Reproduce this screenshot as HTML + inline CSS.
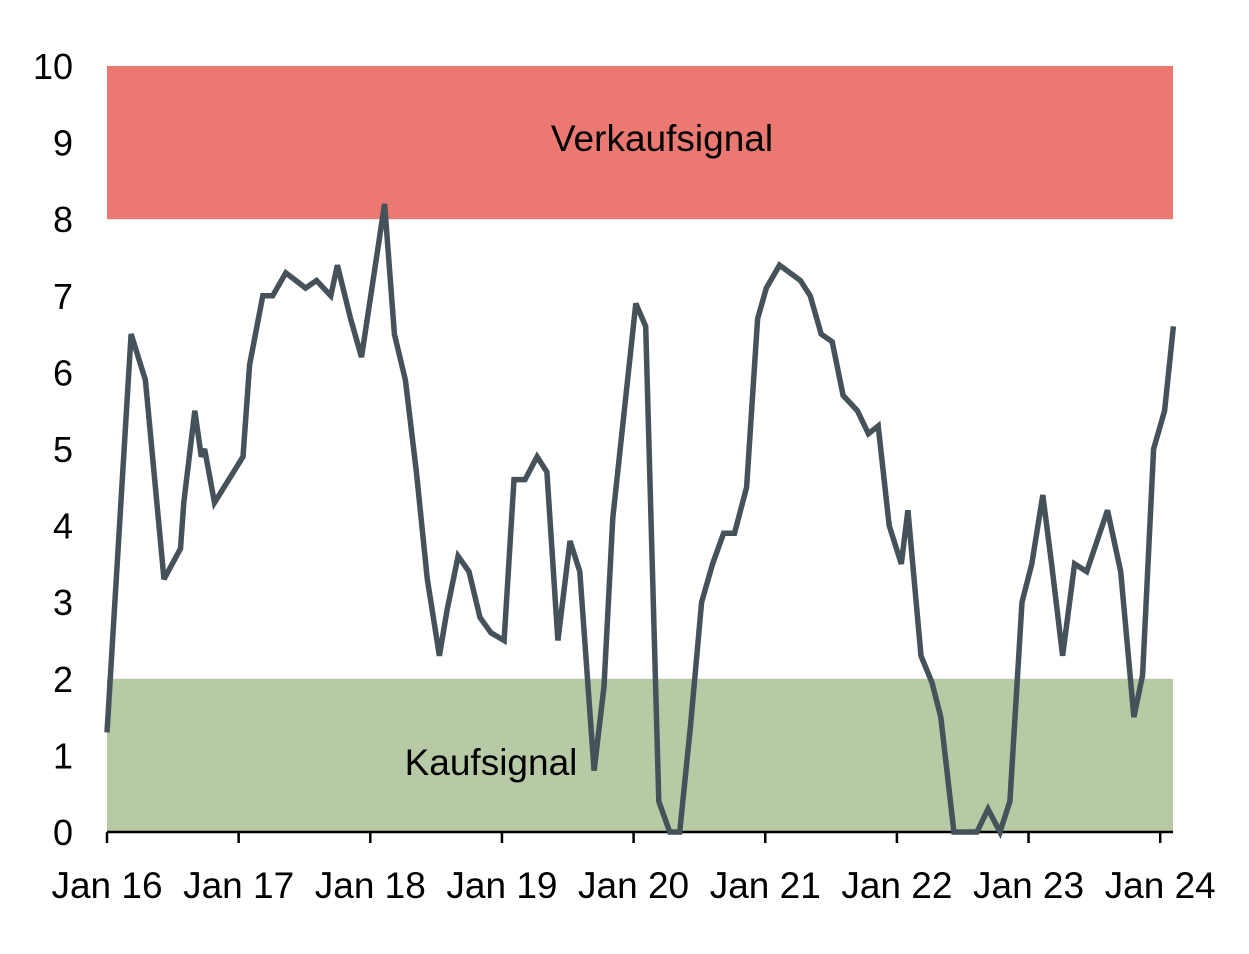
<!DOCTYPE html>
<html><head><meta charset="utf-8"><style>
html,body{margin:0;padding:0;background:#fff;}
svg text{font-family:"Liberation Sans",sans-serif;fill:#000;}
</style></head><body>
<svg id="chart" width="1249" height="949" viewBox="0 0 1249 949" xmlns="http://www.w3.org/2000/svg">
<g id="bands"></g><g id="axes"></g><g id="series"></g>
</svg>
<script>
// months since Jan 2016
const months=[0,2.2,3.5,5.2,6.7,7,8,8.6,8.9,9.8,12.4,13,14.2,15.1,16.3,18.1,19.1,20.4,21,22.2,23.2,25.3,26.2,27.2,28.2,29.2,30.3,31,32,33,34,35,36.2,37.1,38.1,39.2,40.1,41.1,42.2,43.1,44.4,45.3,46.1,48.2,49.1,50.3,51.3,52.2,53.2,54.2,55.2,56.2,57.2,58.3,59.3,60.1,61.3,63.2,64.1,65.1,66.1,67.1,68.4,69.4,70.3,71.3,72.4,73,74.2,75.2,76,77.2,79.3,80.3,81.4,82.3,83.4,84.3,85.3,86.1,87.1,88.2,89.3,91.2,92.4,93.6,94.4,95.4,96.4,97.2];
const values=[1.3,6.5,5.9,3.3,3.7,4.3,5.5,4.9,5.0,4.3,4.9,6.1,7.0,7.0,7.3,7.1,7.2,7.0,7.4,6.7,6.2,8.2,6.5,5.9,4.7,3.3,2.3,2.9,3.6,3.4,2.8,2.6,2.5,4.6,4.6,4.9,4.7,2.5,3.8,3.4,0.8,1.9,4.1,6.9,6.6,0.4,0,0,1.4,3.0,3.5,3.9,3.9,4.5,6.7,7.1,7.4,7.2,7.0,6.5,6.4,5.7,5.5,5.2,5.3,4.0,3.5,4.2,2.3,1.95,1.5,0,0,0.3,0,0.4,3.0,3.5,4.4,3.5,2.3,3.5,3.4,4.2,3.4,1.5,2.05,5.0,5.5,6.6];
const yTicks=[0,1,2,3,4,5,6,7,8,9,10];
const xTickLabels=["Jan 16","Jan 17","Jan 18","Jan 19","Jan 20","Jan 21","Jan 22","Jan 23","Jan 24"];
const bandSell=[8,10], bandBuy=[0,2];

const X0=107,PXM=131.65/12,XEND=1173;
const x=m=>X0+m*PXM;
const y=v=>832-v*76.6;
const NS="http://www.w3.org/2000/svg";
function mk(tag,attrs,parent,text){const e=document.createElementNS(NS,tag);for(const k in attrs)e.setAttribute(k,attrs[k]);if(text!==undefined)e.textContent=text;document.getElementById(parent).appendChild(e);return e;}

let r=mk('rect',{x:X0,y:y(bandSell[1]),width:XEND-X0,height:y(bandSell[0])-y(bandSell[1]),fill:'#ec7872'},'bands');


r=mk('rect',{x:X0,y:y(bandBuy[1]),width:XEND-X0,height:y(bandBuy[0])-y(bandBuy[1]),fill:'#b8c9a5'},'bands');


let t=mk('text',{x:662,y:151,'font-size':37,'text-anchor':'middle'},'bands','Verkaufsignal');


t=mk('text',{x:491,y:775,'font-size':37,'text-anchor':'middle'},'bands','Kaufsignal');



yTicks.forEach(v=>{const e=mk('text',{x:73,y:y(v)+13,'font-size':36,'text-anchor':'end'},'axes',String(v));

});
let ax=mk('line',{x1:X0,x2:XEND,y1:832,y2:832,stroke:'#000','stroke-width':2.5},'axes');


xTickLabels.forEach((l,i)=>{const xx=x(i*12);
const tk=mk('line',{x1:xx,x2:xx,y1:832,y2:843,stroke:'#000','stroke-width':2.5},'axes');


const e=mk('text',{x:xx,y:898,'font-size':37,'text-anchor':'middle'},'axes',l);

});

const pts=months.map((m,i)=>x(m).toFixed(1)+','+y(values[i]).toFixed(1)).join(' ');
const pl=mk('polyline',{points:pts,fill:'none',stroke:'#46525a','stroke-width':5.5,'stroke-linejoin':'miter','stroke-miterlimit':3},'series');


</script>
</body></html>
